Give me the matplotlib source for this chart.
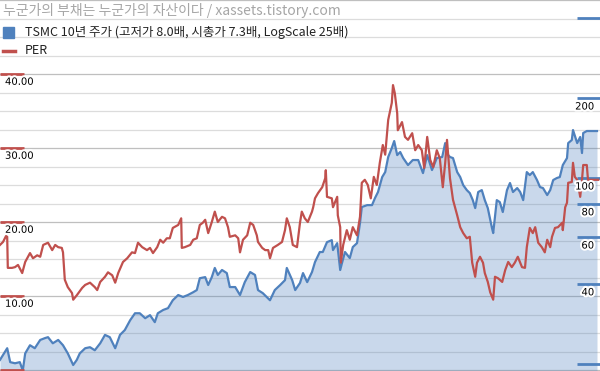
import numpy as np
import matplotlib.pyplot as plt
import matplotlib.patheffects as pe
from matplotlib.patches import Rectangle
from matplotlib.lines import Line2D

plt.rcParams['font.family'] = ['Noto Sans CJK KR', 'DejaVu Sans']

title = "누군가의 부채는 누군가의 자산이다 / xassets.tistory.com"
price_label = "TSMC 10년 주가 (고저가 8.0배, 시총가 7.3배, LogScale 25배)"
per_label = "PER"

# time in years since the start of the 10 year window
price_t = [0.00, 0.12, 0.17, 0.25, 0.33, 0.38, 0.42, 0.50, 0.58, 0.67, 0.75, 0.80, 0.88, 0.97,
           1.05, 1.13, 1.22, 1.28, 1.33, 1.42, 1.50, 1.58, 1.67, 1.75, 1.83, 1.92,
           2.00, 2.08, 2.17, 2.25, 2.33, 2.42, 2.50, 2.58, 2.63, 2.72, 2.80, 2.88, 2.97,
           3.05, 3.13, 3.22, 3.28, 3.33, 3.42, 3.47, 3.53, 3.58, 3.63, 3.70, 3.78, 3.83, 3.92,
           4.00, 4.08, 4.17, 4.25, 4.30, 4.38, 4.50, 4.58, 4.67, 4.75, 4.78, 4.87, 4.92,
           5.00, 5.05, 5.12, 5.20, 5.25, 5.33, 5.38, 5.45, 5.53, 5.55, 5.62, 5.67, 5.70, 5.75,
           5.83, 5.88, 5.95,
           6.00, 6.03, 6.12, 6.20, 6.25, 6.30, 6.37, 6.42, 6.47, 6.53, 6.57, 6.62, 6.67, 6.72,
           6.80, 6.88, 6.97,
           7.05, 7.12, 7.20, 7.28, 7.37, 7.42, 7.47, 7.50, 7.55, 7.62, 7.67, 7.72, 7.78, 7.83,
           7.88, 7.92, 7.97,
           8.03, 8.08, 8.13, 8.20, 8.22, 8.28, 8.33, 8.38, 8.45, 8.50, 8.55, 8.62, 8.67, 8.72,
           8.78, 8.83, 8.88, 8.95,
           9.00, 9.05, 9.12, 9.17, 9.22, 9.28, 9.33, 9.38, 9.45, 9.47, 9.53, 9.55, 9.62, 9.67,
           9.70, 9.72, 9.78, 9.95]
price = [20.7, 22.9, 20.3, 20.1, 20.3, 18.9, 21.9, 23.5, 22.9, 24.6, 25.0, 25.2, 23.9, 24.6,
         23.5, 21.9, 19.8, 20.7, 21.9, 22.9, 23.1, 22.5, 23.9, 25.7, 25.2, 22.9,
         25.7, 26.8, 29.2, 31.0, 31.0, 29.7, 30.5, 28.7, 31.0, 31.9, 32.4, 34.7, 36.3,
         35.7, 36.3, 37.2, 37.9, 42.0, 42.4, 39.6, 42.4, 45.9, 43.2, 45.1, 43.9, 38.9, 38.9,
         36.3, 40.6, 44.3, 43.2, 37.9, 36.9, 34.7, 37.9, 39.6, 41.3, 45.9, 41.3, 37.9,
         40.3, 43.9, 40.6, 44.3, 48.3, 52.7, 52.7, 57.4, 58.4, 53.6, 56.9, 45.1, 47.9, 52.7,
         50.0, 55.0, 56.9,
         67.7, 77.8, 79.1, 79.1, 84.1, 88.6, 100.9, 105.3, 120.0, 129.7, 137.8, 122.0, 125.3, 118.9,
         111.9, 116.9, 116.9,
         104.4, 122.0, 107.2, 118.9, 120.0, 135.4, 122.0, 120.0, 118.9, 105.3, 100.9, 94.1, 90.1, 87.8,
         82.6, 77.1, 88.6,
         90.1, 82.6, 77.1, 64.8, 62.1, 82.6, 81.2, 74.5, 90.1, 95.8, 88.6, 91.7, 88.6, 82.6,
         105.3, 102.6, 105.3, 98.3,
         92.5, 91.7, 86.3, 90.1, 98.3, 100.0, 100.9, 111.9, 118.9, 135.4, 139.0, 151.6, 135.4, 142.7,
         124.2, 147.7, 150.3, 150.3]

per_t = [0.00, 0.05, 0.10, 0.12, 0.13, 0.20, 0.25, 0.30, 0.37, 0.42, 0.50, 0.55, 0.62, 0.67,
         0.72, 0.80, 0.87, 0.92, 0.97,
         1.03, 1.05, 1.08, 1.13, 1.20, 1.22, 1.28, 1.37, 1.42, 1.50, 1.58, 1.62, 1.67, 1.75,
         1.80, 1.87, 1.92, 1.97,
         2.05, 2.12, 2.20, 2.25, 2.30, 2.37, 2.45, 2.50, 2.55, 2.62, 2.67, 2.72, 2.78, 2.83,
         2.88, 2.97,
         3.02, 3.03, 3.08, 3.17, 3.22, 3.28, 3.33, 3.38, 3.42, 3.47, 3.53, 3.58, 3.63, 3.70,
         3.75, 3.80, 3.83, 3.92, 3.97,
         4.00, 4.05, 4.12, 4.17, 4.22, 4.28, 4.30, 4.37, 4.42, 4.47, 4.50, 4.55, 4.63, 4.70,
         4.75, 4.78, 4.83, 4.88, 4.95,
         5.00, 5.03, 5.08, 5.13, 5.20, 5.22, 5.25, 5.30, 5.37, 5.42, 5.43, 5.45, 5.53, 5.55,
         5.62, 5.63, 5.67, 5.68, 5.72, 5.78, 5.83, 5.88, 5.95,
         6.00, 6.03, 6.08, 6.13, 6.18, 6.23, 6.28, 6.33, 6.38, 6.42, 6.47, 6.53, 6.55, 6.58,
         6.62, 6.63, 6.70, 6.75, 6.80, 6.87, 6.92, 6.97,
         7.03, 7.07, 7.12, 7.17, 7.22, 7.28, 7.33, 7.38, 7.42, 7.45, 7.50, 7.55, 7.62, 7.67,
         7.72, 7.78, 7.83, 7.87, 7.92, 7.95,
         8.00, 8.05, 8.08, 8.13, 8.17, 8.22, 8.25, 8.30, 8.37, 8.42, 8.47, 8.53, 8.58, 8.63,
         8.70, 8.75, 8.78, 8.83, 8.88, 8.92, 8.97,
         9.03, 9.08, 9.12, 9.17, 9.20, 9.25, 9.30, 9.37, 9.38, 9.42, 9.45, 9.47, 9.53, 9.55,
         9.58, 9.62, 9.63, 9.67, 9.70, 9.72, 9.78, 9.80, 9.97]
per = [16.9, 17.3, 18.1, 18.0, 13.8, 13.8, 13.9, 14.2, 13.1, 14.6, 15.8, 15.1, 15.5, 15.3,
       16.9, 17.2, 16.2, 16.9, 16.6,
       16.5, 15.9, 12.2, 11.2, 10.4, 9.5, 10.1, 11.1, 11.5, 11.8, 11.2, 10.8, 11.9, 12.6,
       13.2, 12.8, 11.8, 13.1,
       14.6, 15.1, 15.9, 15.8, 17.2, 16.6, 16.2, 16.5, 15.8, 16.6, 17.6, 17.2, 17.8, 17.8,
       19.2, 19.6,
       20.5, 16.5, 16.6, 16.9, 17.6, 17.8, 19.6, 19.9, 20.3, 18.5, 20.0, 21.4, 20.0, 20.7,
       20.5, 19.3, 18.0, 18.2, 17.8,
       15.9, 17.6, 18.2, 19.9, 19.6, 18.2, 17.3, 16.5, 16.2, 16.2, 15.1, 16.5, 16.9, 17.3,
       18.9, 20.5, 19.3, 16.9, 16.6,
       19.9, 21.4, 20.5, 20.0, 21.4, 22.0, 23.2, 23.9, 24.7, 25.9, 27.0, 23.4, 23.2, 22.0,
       23.4, 20.9, 19.3, 14.5, 16.9, 18.9, 17.6, 19.3, 18.2,
       20.7, 25.3, 25.7, 25.0, 23.2, 26.1, 25.0, 28.0, 30.4, 29.1, 33.8, 36.1, 38.5, 37.4,
       34.7, 32.4, 33.5, 31.5, 31.1, 32.0, 29.7, 30.4,
       29.7, 27.3, 31.5, 28.4, 27.4, 29.7, 28.6, 24.7, 28.0, 31.1, 25.9, 23.0, 20.9, 19.3,
       18.5, 17.8, 18.0, 14.5, 12.6, 14.5,
       15.3, 14.5, 13.1, 11.9, 10.5, 9.5, 12.6, 12.4, 11.9, 13.5, 14.6, 13.9, 14.5, 15.3,
       13.9, 13.8, 16.6, 19.2, 18.5, 19.3, 17.2,
       16.6, 15.9, 17.6, 16.6, 18.0, 19.2, 19.3, 19.9, 18.9, 22.0, 22.6, 25.3, 25.4, 28.0,
       26.1, 25.7, 25.3, 23.4, 25.7, 27.7, 27.7, 25.7, 25.7]

per_ticks = [0, 10, 20, 30, 40]
price_ticks = [20, 40, 60, 80, 100, 200, 400]
price_tick_labels = [40, 60, 80, 100, 200]

blue = '#4f81bd'
red = '#c0504d'
halo = [pe.withStroke(linewidth=3, foreground='white')]

fig = plt.figure(figsize=(6, 3.71), dpi=100)
ax = fig.add_axes([0, 0, 1, 1])
ax.set_xlim(0, 10)
ax.set_ylim(-0.135, 50)
ax.set_axis_off()
for v in np.arange(0, 50.1, 2.5):
    ax.axhline(v, color='#bfbfbf' if v % 10 == 0 else '#dcdcdc', lw=0.9, zorder=0)

# price on log scale
ax2 = ax.twinx()
ax2.set_yscale('log')
ax2.set_ylim(18.8, 467.6)
ax2.set_axis_off()
ax2.fill_between(price_t, price, 18.8, color=blue, alpha=0.3, lw=0)
ax2.plot(price_t, price, color=blue, lw=1.6)
ax2.hlines(price_ticks, 0.962, 1.0, transform=ax2.get_yaxis_transform(), color=blue, lw=2)

# PER on top
ax3 = ax.twinx()
ax3.set_ylim(ax.get_ylim())
ax3.set_axis_off()
ax3.plot(per_t, per, color=red, lw=1.6)
ax3.hlines(per_ticks, 0, 0.04, transform=ax3.get_yaxis_transform(), color=red, lw=2)
for v in per_ticks[1:]:
    ax3.annotate(f"{v:.2f}", xy=(5 / 600, v), xycoords=ax3.get_yaxis_transform(),
                 xytext=(0, -2), textcoords='offset points', ha='left', va='top',
                 fontsize=7.2, family='DejaVu Sans', path_effects=halo)
for v in price_tick_labels:
    ax3.annotate(str(v), xy=(594 / 600, v), xycoords=ax2.get_yaxis_transform(),
                 xytext=(0, -2.5), textcoords='offset points', ha='right', va='top',
                 fontsize=7.2, family='DejaVu Sans', path_effects=halo)

# title and legend
fig.text(3 / 600, 1 - 10 / 371, title, color='#a6a6a6', fontsize=10, va='center', ha='left')
fig.patches.append(Rectangle((3 / 600, 1 - 38 / 371), 11 / 600, 11 / 371,
                             transform=fig.transFigure, color=blue))
fig.text(25 / 600, 1 - 32 / 371, price_label, fontsize=9, va='center', ha='left', color='#222222')
fig.lines.append(Line2D([3 / 600, 15 / 600], [1 - 51 / 371] * 2, transform=fig.transFigure,
                        color=red, lw=2.5))
fig.text(25 / 600, 1 - 51 / 371, per_label, fontsize=9, va='center', ha='left', color='#222222')

fig.savefig('out.png', dpi=100)
